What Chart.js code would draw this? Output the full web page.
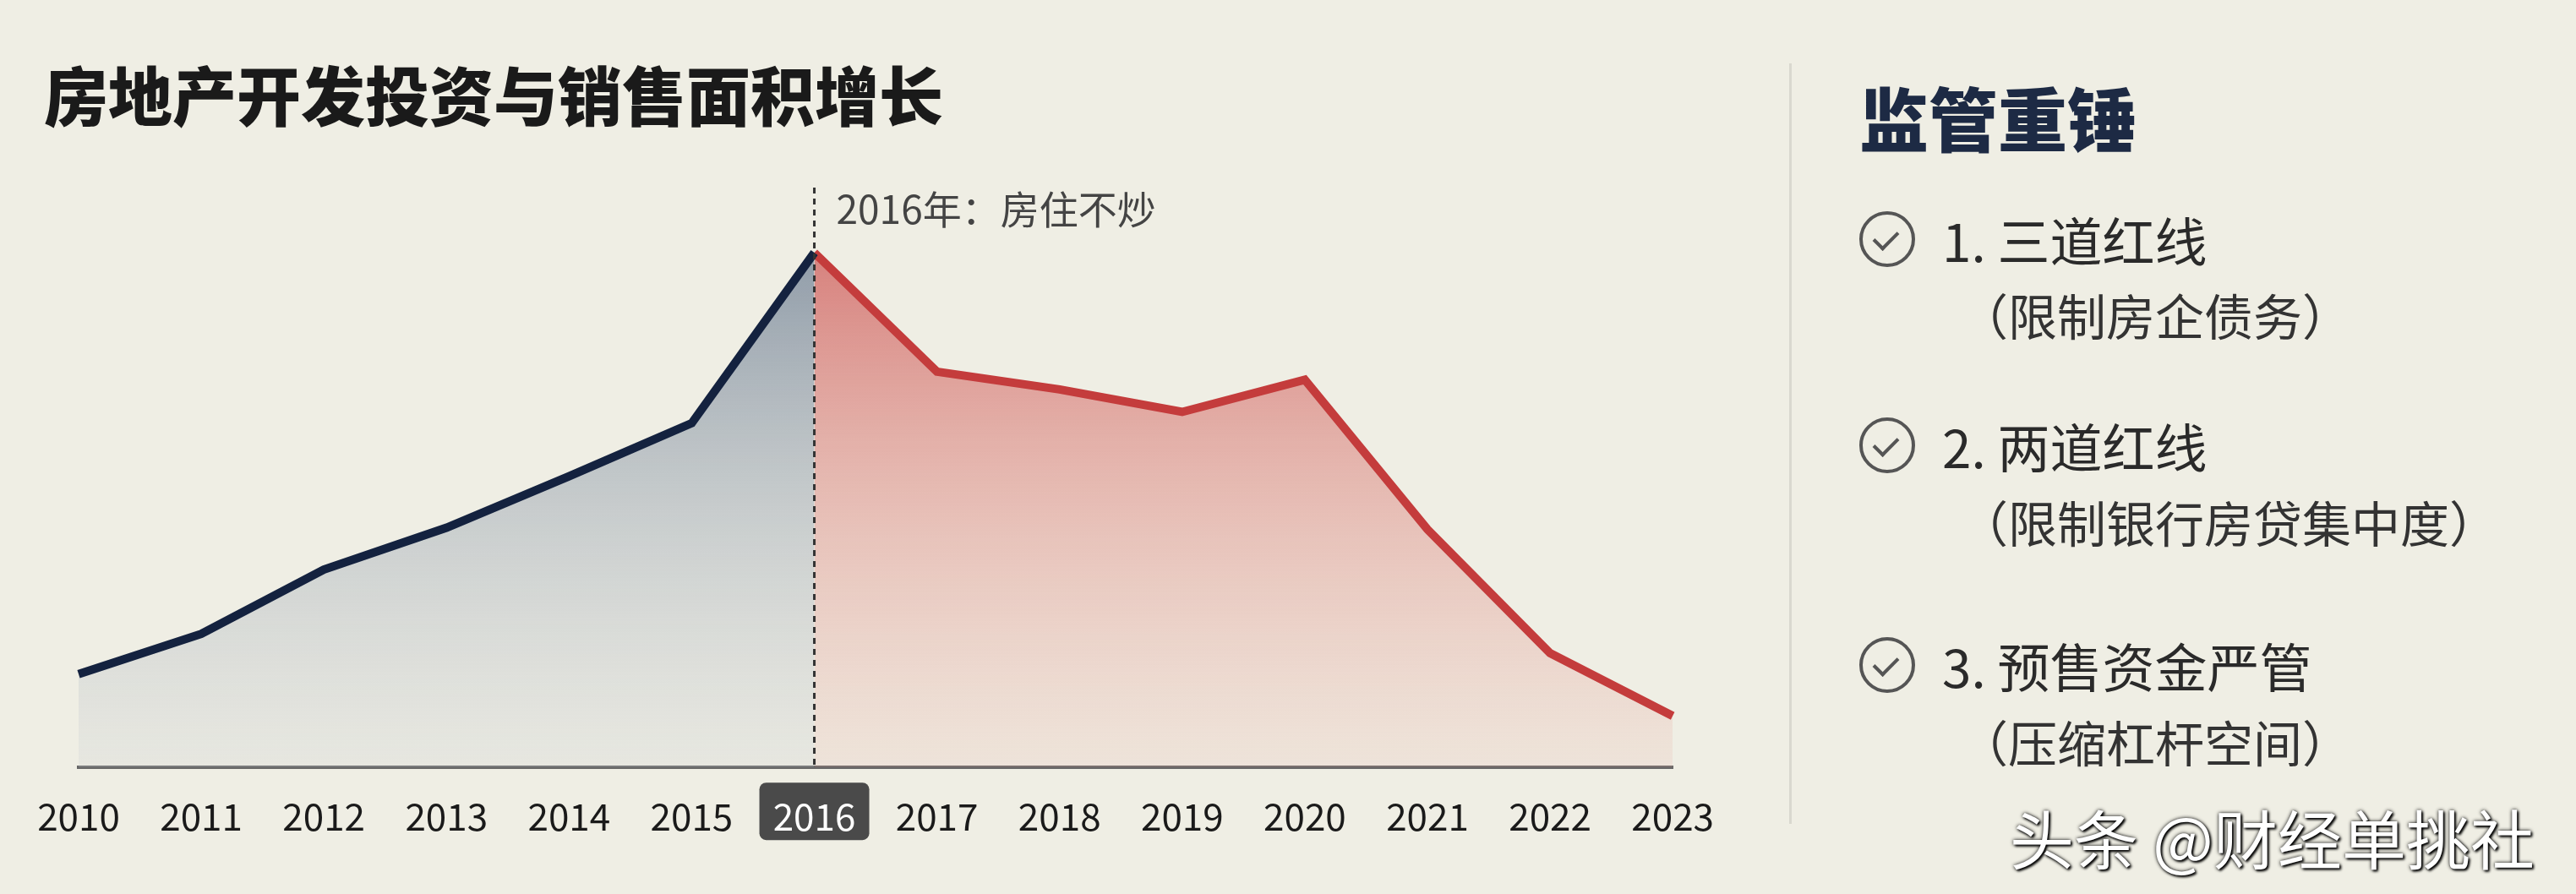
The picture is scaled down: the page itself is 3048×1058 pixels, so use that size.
<!DOCTYPE html>
<html><head><meta charset="utf-8">
<script src="https://cdn.jsdelivr.net/npm/chart.js@4"></script>
<style>
body{margin:0;width:3048px;height:1058px;background:#efeee4;overflow:hidden;font-family:"Noto Sans CJK SC",sans-serif;position:relative}
#title{position:absolute;left:52px;top:72px;font-size:76px;font-weight:900;color:#1a1a1a;line-height:1}
#wrap{position:absolute;left:0;top:0;width:2060px;height:1025px}
#div{position:absolute;left:2117px;top:75px;width:3px;height:900px;background:#d9d8cf}
#rt{position:absolute;left:2200px;top:78px;font-size:82px;font-weight:900;color:#1d2a44}
.it{position:absolute;left:2200px;font-size:62px;color:#2a2a2a;display:flex;align-items:center}
.ck{width:66px;height:66px;border:4px solid #555;border-radius:50%;box-sizing:border-box;margin-right:32px;position:relative}
.ck:after{content:"";position:absolute;left:19px;top:13px;width:13px;height:24px;border-right:4px solid #555;border-bottom:4px solid #555;transform:rotate(45deg)}
.sub{position:absolute;left:2318px;font-size:58px;color:#333}
#wm{position:absolute;left:2378px;top:935px;font-size:76px;color:#fff;text-shadow:0 0 4px #000,2px 2px 3px #000}
</style></head><body>
<div id="title">房地产开发投资与销售面积增长</div>
<div id="wrap"><canvas id="c"></canvas></div>
<div id="div"></div>
<div id="rt">监管重锤</div>
<div class="it" style="top:238px"><div class="ck"></div>1. 三道红线</div>
<div class="sub" style="top:330px">（限制房企债务）</div>
<div class="it" style="top:482px"><div class="ck"></div>2. 两道红线</div>
<div class="sub" style="top:575px">（限制银行房贷集中度）</div>
<div class="it" style="top:742px"><div class="ck"></div>3. 预售资金严管</div>
<div class="sub" style="top:835px">（压缩杠杆空间）</div>
<div id="wm">头条 @财经单挑社</div>
<script>
const years=["2010","2011","2012","2013","2014","2015","2016","2017","2018","2019","2020","2021","2022","2023"];
const beforeVals=[58,83,123,149,181,214,320,null,null,null,null,null,null,null];
const afterVals=[null,null,null,null,null,null,320,246,235,221,241,148,71,32];
const annotation="2016年：房住不炒";
const highlightYear="2016";
function grad(ctx,top,bot){const a=ctx.chart.chartArea;if(!a)return top;const g=ctx.chart.ctx.createLinearGradient(0,a.top,0,a.bottom);g.addColorStop(0,top);g.addColorStop(1,bot);return g;}
const deco={id:'deco',
beforeDraw(ch){const x=ch.scales.x,c=ch.ctx;const px=x.getPixelForValue(years.indexOf(highlightYear));c.save();c.fillStyle='#4a4a4a';const w=130,h=68,y=ch.chartArea.bottom+18;c.beginPath();c.roundRect(px-w/2,y,w,h,8);c.fill();c.restore();},
afterDatasetsDraw(ch){const x=ch.scales.x,c=ch.ctx;const px=x.getPixelForValue(years.indexOf(highlightYear));c.save();c.strokeStyle='#333';c.lineWidth=3;c.setLineDash([7,6]);c.beginPath();c.moveTo(px,222);c.lineTo(px,ch.chartArea.bottom);c.stroke();c.setLineDash([]);c.fillStyle='#444';c.font='46px "Noto Sans CJK SC"';c.textBaseline='middle';c.fillText(annotation,px+26,248);c.restore();}};
new Chart(document.getElementById('c'),{type:'line',
data:{labels:years,datasets:[
{data:beforeVals,borderColor:'#14223f',borderWidth:10,pointRadius:0,fill:'origin',tension:0,backgroundColor:c=>grad(c,'rgba(100,118,140,0.85)','rgba(200,205,210,0.2)')},
{data:afterVals,borderColor:'#c43c3c',borderWidth:10,pointRadius:0,fill:'origin',tension:0,backgroundColor:c=>grad(c,'rgba(200,70,70,0.8)','rgba(235,170,160,0.15)')}]},
options:{responsive:true,maintainAspectRatio:false,animation:false,
layout:{padding:{left:93,right:73,top:200,bottom:0}},
plugins:{legend:{display:false},tooltip:{enabled:false}},
scales:{y:{display:false,min:0,max:372},
x:{offset:false,grid:{display:false,drawTicks:false},border:{display:true,color:'#666',width:4},
ticks:{padding:32,color:c=>c.tick.label===highlightYear?'#fff':'#1a1a1a',font:{size:44,family:'"Noto Sans CJK SC"'}}}}},
plugins:[deco]});
</script></body></html>
